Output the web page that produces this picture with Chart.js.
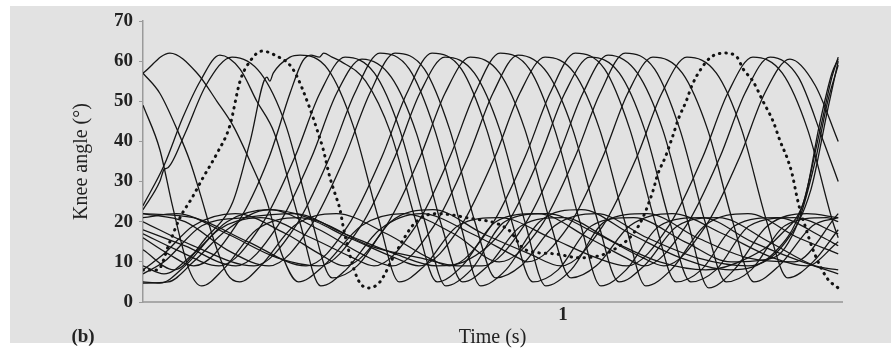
<!DOCTYPE html>
<html>
<head>
<meta charset="utf-8">
<script src="https://cdn.jsdelivr.net/npm/chart.js@4.4.1/dist/chart.umd.min.js"></script>
<style>
  html, body { margin: 0; padding: 0; background: #ffffff; }
  #wrap { width: 891px; height: 350px; }
</style>
</head>
<body>
<div id="wrap"><canvas id="knee" width="891" height="350"></canvas></div>
<script>
// Knee angle traces, [time (s), angle (deg)], one array per trial.
const trial01 = [[0,57],[0.064,62],[0.129,57],[0.176,50],[0.214,44],[0.255,35],[0.295,25],[0.33,12],[0.37,5],[0.43,9],[0.52,19],[0.62,22],[0.74,17],[0.848,10],[0.948,19],[1.028,36],[1.088,52],[1.148,62],[1.218,58],[1.278,43],[1.338,20],[1.388,5],[1.448,8],[1.528,19],[1.628,21],[1.655,20]];
const trial02 = [[0,57],[0.04,52],[0.081,43],[0.112,35],[0.136,27],[0.17,15],[0.2,7],[0.23,5],[0.28,9],[0.36,19],[0.46,22],[0.58,17],[0.68,11],[0.729,9],[0.829,19],[0.909,36],[0.969,52],[1.029,62],[1.099,58],[1.159,43],[1.219,20],[1.269,5],[1.329,8],[1.409,19],[1.51,21],[1.62,16],[1.655,14]];
const trial03 = [[0,49],[0.04,38],[0.07,24],[0.11,8],[0.14,4],[0.19,8],[0.27,18],[0.37,21],[0.49,16],[0.6,11],[0.657,9],[0.757,19],[0.837,36],[0.897,52],[0.957,61],[1.027,57],[1.087,43],[1.147,20],[1.197,4],[1.257,8],[1.337,19],[1.44,22],[1.56,16],[1.655,12]];
const trial04 = [[0,24],[0.05,34],[0.095,46],[0.136,55],[0.183,61.5],[0.231,58],[0.271,50],[0.313,42],[0.373,20],[0.423,4],[0.483,8],[0.563,18],[0.663,22],[0.783,17],[0.893,11],[0.914,10],[1.014,19],[1.094,36],[1.154,52],[1.214,61],[1.284,57],[1.344,43],[1.404,20],[1.454,5],[1.514,9],[1.594,19],[1.655,21]];
const trial05 = [[0,23],[0.04,30],[0.05,33],[0.06,33.5],[0.1,42],[0.15,54],[0.212,61],[0.28,57],[0.34,44],[0.4,21],[0.45,6],[0.51,9],[0.59,20],[0.69,23],[0.81,17],[0.92,12],[0.995,9],[1.095,19],[1.175,36],[1.235,52],[1.295,61],[1.365,57],[1.425,43],[1.485,20],[1.535,6],[1.595,10],[1.655,18]];
const trial06 = [[0,13],[0.074,8],[0.15,16],[0.214,25],[0.255,40],[0.295,56],[0.302,55],[0.31,57],[0.35,61],[0.374,61.5],[0.44,58],[0.5,44],[0.56,21],[0.61,5],[0.67,9],[0.75,19],[0.85,21],[0.97,16],[1.08,11],[1.152,9],[1.252,19],[1.332,36],[1.392,52],[1.452,61],[1.522,57],[1.582,43],[1.642,20],[1.655,16]];
const trial07 = [[0,16],[0.06,12],[0.121,9],[0.221,19],[0.3,36],[0.35,52],[0.38,60],[0.4,61.5],[0.42,61],[0.43,62],[0.45,61],[0.47,60],[0.53,55],[0.59,42],[0.65,20],[0.7,5],[0.76,9],[0.84,20],[0.94,22],[1.06,16],[1.15,11],[1.193,9],[1.293,19],[1.373,36],[1.433,52],[1.493,61],[1.56,56],[1.62,40],[1.655,30]];
const trial08 = [[0,17],[0.08,13],[0.181,9],[0.281,19],[0.361,36],[0.421,52],[0.481,61],[0.551,57],[0.611,43],[0.671,20],[0.721,4],[0.781,8],[0.861,20],[0.961,22],[1.08,17],[1.19,11],[1.24,9],[1.34,19],[1.42,36],[1.48,52],[1.54,60.5],[1.6,54],[1.655,40]];
const trial09 = [[0,18],[0.1,14],[0.221,9],[0.321,19],[0.401,36],[0.461,52],[0.521,60.5],[0.591,56],[0.651,42],[0.711,19],[0.761,5],[0.821,9],[0.901,19],[1.0,21],[1.12,15],[1.23,10],[1.34,8],[1.44,11],[1.52,17],[1.576,26],[1.61,44],[1.64,57],[1.655,60.5]];
const trial10 = [[0,20],[0.12,14],[0.264,9],[0.364,19],[0.444,36],[0.504,52],[0.564,62],[0.634,58],[0.694,43],[0.754,20],[0.804,4],[0.864,8],[0.944,20],[1.044,23],[1.16,17],[1.28,11],[1.4,8],[1.5,12],[1.57,24],[1.61,42],[1.64,56],[1.655,61]];
const trial11 = [[0,22],[0.1,20],[0.2,13],[0.3,9],[0.4,19],[0.48,36],[0.54,52],[0.6,62],[0.67,58],[0.73,43],[0.79,20],[0.84,6],[0.9,9],[0.98,19],[1.08,22],[1.2,16],[1.32,11],[1.44,9],[1.53,15],[1.59,28],[1.63,48],[1.655,60]];
const trial12 = [[0,22],[0.12,21],[0.25,15],[0.388,9],[0.488,19],[0.568,36],[0.628,52],[0.688,62],[0.758,58],[0.818,43],[0.878,20],[0.928,5],[0.988,8],[1.068,19],[1.168,21],[1.29,15],[1.4,10],[1.5,11],[1.56,20],[1.6,35],[1.63,50],[1.655,59]];
const trial13 = [[0,21],[0.08,22],[0.2,17],[0.32,11],[0.419,9],[0.519,19],[0.599,36],[0.659,52],[0.719,61],[0.789,57],[0.849,43],[0.909,20],[0.959,4],[1.019,8],[1.099,20],[1.2,22],[1.32,16],[1.44,11],[1.55,10],[1.655,22]];
const trial14 = [[0,8],[0.05,12],[0.12,19],[0.22,22],[0.34,17],[0.42,12],[0.479,9],[0.579,19],[0.659,36],[0.719,52],[0.779,61],[0.849,57],[0.909,43],[0.969,20],[1.019,6],[1.079,9],[1.159,19],[1.26,22],[1.38,17],[1.5,11],[1.58,9],[1.655,15]];
const trial15 = [[0,5],[0.04,4.7],[0.1,9],[0.18,18],[0.28,21],[0.4,16],[0.5,11],[0.55,9],[0.65,19],[0.73,36],[0.79,52],[0.85,62],[0.92,58],[0.98,43],[1.04,20],[1.09,4],[1.15,8],[1.23,19],[1.33,21],[1.45,15],[1.57,10],[1.655,7]];
const trial16 = [[0,9],[0.05,7],[0.12,12],[0.2,20],[0.3,23],[0.42,18],[0.52,12],[0.593,9],[0.693,19],[0.773,36],[0.833,52],[0.893,61.5],[0.963,57],[1.023,43],[1.083,20],[1.133,5],[1.193,9],[1.273,19],[1.37,21],[1.49,15],[1.6,9],[1.655,8]];
const trial17 = [[0,7],[0.05,10],[0.14,19],[0.24,21],[0.36,22],[0.48,17],[0.6,12],[0.7,9],[0.764,10],[0.864,19],[0.944,36],[1.004,52],[1.064,61],[1.134,57],[1.194,43],[1.254,20],[1.304,5],[1.364,8],[1.444,19],[1.55,21],[1.655,17]];
const trial18 = [[0,4.7],[0.06,5],[0.12,10],[0.2,18],[0.3,23],[0.42,20],[0.54,14],[0.66,11],[0.75,9],[0.807,9],[0.907,19],[0.987,36],[1.047,52],[1.107,61.5],[1.177,57],[1.237,43],[1.297,20],[1.347,3.5],[1.407,8],[1.487,19],[1.58,22],[1.655,21]];
// Highlighted trial (dotted)
const highlighted = [[0,8],[0.035,8],[0.064,15],[0.088,21],[0.117,26],[0.143,31],[0.176,37],[0.207,44],[0.231,55],[0.255,60],[0.283,62.5],[0.314,61.5],[0.357,58],[0.398,48],[0.414,43],[0.429,38],[0.445,31],[0.457,27],[0.469,23],[0.478,18],[0.51,6],[0.536,3.5],[0.564,5],[0.6,12],[0.65,20],[0.7,22],[0.77,21],[0.87,18],[0.91,13],[0.98,12],[1.04,11],[1.12,13],[1.18,19],[1.212,27],[1.226,32],[1.243,36],[1.26,41],[1.276,46],[1.293,50],[1.307,54],[1.328,58],[1.352,61],[1.386,62],[1.414,61],[1.429,58],[1.452,55],[1.476,50],[1.5,45],[1.517,40],[1.533,36],[1.545,32],[1.557,26],[1.564,23],[1.576,19],[1.595,13],[1.628,6],[1.648,4],[1.655,3.5]];

const trials = [trial01, trial02, trial03, trial04, trial05, trial06, trial07, trial08, trial09,
  trial10, trial11, trial12, trial13, trial14, trial15, trial16, trial17, trial18];

const yTicks = [0, 10, 20, 30, 40, 50, 60, 70];
const xTickValues = [1];

const toPoints = arr => arr.map(([x, y]) => ({ x, y }));

const datasets = trials.map((t, i) => ({
  label: 'Trial ' + (i + 1),
  data: toPoints(t),
  borderColor: '#151515',
  borderWidth: 1.3,
  pointRadius: 0,
  cubicInterpolationMode: 'monotone',
  fill: false
}));
datasets.push({
  label: 'Highlighted trial',
  data: toPoints(highlighted),
  borderColor: '#111111',
  borderWidth: 3,
  borderDash: [0.5, 6],
  borderCapStyle: 'round',
  pointRadius: 0,
  cubicInterpolationMode: 'monotone',
  fill: false
});

const SERIF = '"Liberation Serif", "Times New Roman", serif';

// Panel background and the "(b)" panel label
const panelPlugin = {
  id: 'panel',
  beforeDraw(chart) {
    const ctx = chart.ctx;
    ctx.save();
    ctx.fillStyle = '#ffffff';
    ctx.fillRect(0, 0, chart.width, chart.height);
    ctx.fillStyle = '#e2e2e2';
    ctx.fillRect(10, 6, chart.width - 10, 337);
    ctx.restore();
  },
  afterDraw(chart) {
    const ctx = chart.ctx;
    ctx.save();
    ctx.fillStyle = '#222';
    ctx.font = 'bold 19px ' + SERIF;
    ctx.textAlign = 'center';
    ctx.textBaseline = 'middle';
    ctx.fillText('(b)', 83, 337);
    ctx.restore();
  }
};

new Chart(document.getElementById('knee'), {
  type: 'line',
  data: { datasets },
  plugins: [panelPlugin],
  options: {
    responsive: false,
    animation: false,
    events: [],
    layout: { padding: { top: 21, right: 49, bottom: 0, left: 0 } },
    plugins: { legend: { display: false }, tooltip: { enabled: false } },
    scales: {
      x: {
        type: 'linear',
        min: 0,
        max: 1.664,
        afterBuildTicks: s => { s.ticks = xTickValues.map(v => ({ value: v })); },
        afterFit: s => { s.height = 48; },
        ticks: {
          color: '#222',
          font: { family: SERIF, size: 19, weight: 'bold' },
          padding: 2,
          maxRotation: 0,
          callback: v => String(v)
        },
        grid: { display: true, drawOnChartArea: false, drawTicks: false },
        border: { display: true, color: '#a8a8a8', width: 2 },
        title: {
          display: true,
          text: 'Time (s)',
          color: '#222',
          font: { family: SERIF, size: 20 },
          padding: { top: 0, bottom: 0 }
        }
      },
      y: {
        min: 0,
        max: 70,
        afterBuildTicks: s => { s.ticks = yTicks.map(v => ({ value: v })); },
        afterFit: s => { s.width = 143; },
        ticks: {
          color: '#222',
          font: { family: SERIF, size: 19, weight: 'bold' },
          padding: 6
        },
        grid: { drawOnChartArea: false, drawTicks: true, tickLength: 4, color: '#9a9a9a' },
        border: { display: true, color: '#9a9a9a', width: 1.5 },
        title: {
          display: true,
          text: 'Knee angle (°)',
          color: '#222',
          font: { family: SERIF, size: 20 },
          padding: { top: 70, bottom: 0 }
        }
      }
    }
  }
});
</script>
</body>
</html>
